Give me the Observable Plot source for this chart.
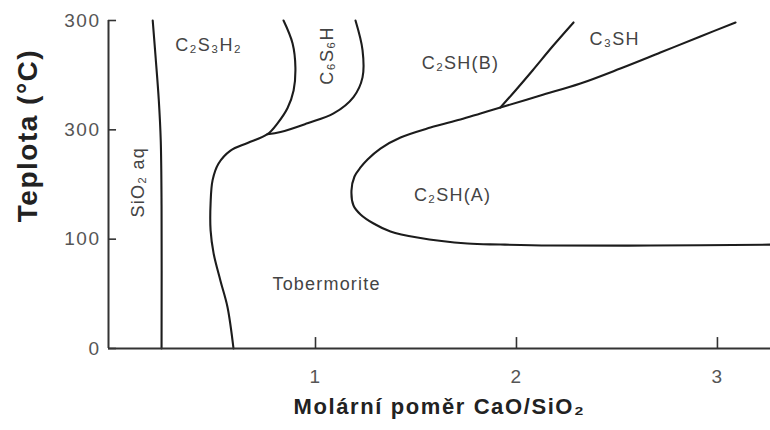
<!DOCTYPE html>
<html><head><meta charset="utf-8">
<script src="https://cdn.jsdelivr.net/npm/d3@7"></script>
<script src="https://cdn.jsdelivr.net/npm/@observablehq/plot@0.6"></script>
<style>
body{margin:0;background:#fff;}
g[font-size="19"] text{letter-spacing:1.5px}
g[font-size="18"] text{letter-spacing:1.2px}
g[font-size="22"] text{letter-spacing:1.6px}
g[font-size="28"] text{letter-spacing:1.5px}
</style></head><body><div id="chart"></div>
<script>
// axis ticks and labels
const xTicks = [1, 2, 3];
const xTickLabels = ["1", "2", "3"];
const yTicks = [0, 100, 200, 300];
const yTickLabels = ["0", "100", "300", "300"];
const xTitle = "Molární poměr CaO/SiO₂";
const yTitle = "Teplota (°C)";
const xDomain = [-0.03, 3.264];
const yDomain = [0, 300];

// phase boundaries: [molar ratio CaO/SiO2, temperature °C]
const boundarySiO2 = [[0.19,300],[0.205,265],[0.22,228],[0.23,190],[0.234,130],[0.234,0]];
const boundaryTobermorite = [[0.841,300],[0.886,279],[0.900,257],[0.891,236],[0.861,220],[0.811,206],[0.761,196],
  [0.662,188],[0.577,181],[0.517,169],[0.488,154],[0.478,133],[0.478,108],[0.493,87],[0.527,62],[0.562,38],[0.592,0]];
const boundaryXonotlite = [[1.199,300],[1.234,273],[1.234,248],[1.189,230],[1.090,215],[0.960,206],[0.826,198],[0.761,196]];
const boundaryC2SHA = [[3.264,95],[2.667,94.2],[2.169,94.2],[1.920,95.1],[1.756,96],[1.507,101.5],[1.373,107],
  [1.289,114.3],[1.224,122.6],[1.189,130.8],[1.179,144.5],[1.194,157.3],[1.224,165.6],[1.259,172.9],[1.323,182.9],
  [1.423,193],[1.572,202.1],[1.721,209.5],[1.821,215],[1.920,220.4],[2.119,231.4],[2.318,242.4],[2.517,256.1],
  [2.716,270.7],[2.915,285.4],[3.09,298.2]];
const boundaryC3SH = [[1.920,220.4],[1.995,236],[2.080,254.3],[2.179,276.2],[2.284,298.2]];

// region names and where they sit (ratio, temperature)
const regionNames = ["C₂S₃H₂", "C₂SH(B)", "C₃SH", "C₂SH(A)", "Tobermorite"];
const regionX = [0.468, 1.721, 2.488, 1.682, 1.055];
const regionT = [277, 260.7, 282.6, 140, 58.5];
const verticalNames = ["C₆S₆H", "SiO₂ aq"];
const verticalX = [1.06, 0.119];
const verticalT = [268, 152];

const boundaries = [boundarySiO2, boundaryTobermorite, boundaryXonotlite, boundaryC2SHA, boundaryC3SH];
const regions = regionNames.map((n, i) => ({n, x: regionX[i], t: regionT[i]}));
const verticals = verticalNames.map((n, i) => ({n, x: verticalX[i], t: verticalT[i]}));

const lineStyle = {x: d => d[0], y: d => d[1], curve: "catmull-rom", stroke: "#1c1c1c", strokeWidth: 2.1};

const chart = Plot.plot({
  width: 770, height: 430,
  marginLeft: 108, marginRight: 0, marginTop: 20, marginBottom: 82,
  x: {domain: xDomain},
  y: {domain: yDomain},
  style: {fontFamily: "'Liberation Sans', Arial, sans-serif", background: "#fff", overflow: "visible"},
  marks: [
    ...boundaries.map(b => Plot.line(b, lineStyle)),
    Plot.ruleY([yDomain[0]], {stroke: "#333", strokeWidth: 2}),
    Plot.ruleX([xDomain[0]], {y1: yDomain[0], y2: yDomain[1], stroke: "#333", strokeWidth: 2}),
    Plot.ruleY(yTicks, {y: d => d, x1: xDomain[0], x2: xDomain[0] + 0.04, stroke: "#333", strokeWidth: 1.6}),
    Plot.ruleX(xTicks, {x: d => d, y1: 0, y2: 10, stroke: "#333", strokeWidth: 1.6}),
    Plot.axisY(yTicks, {tickSize: 0, tickPadding: 8, tickFormat: (d, i) => yTickLabels[i], fontSize: 19, fill: "#555", label: null}),
    Plot.axisX(xTicks, {tickSize: 0, tickPadding: 21, tickFormat: (d, i) => xTickLabels[i], fontSize: 19, fill: "#555", label: null}),
    Plot.text(regions, {x: "x", y: "t", text: "n", fontSize: 18, fill: "#444"}),
    Plot.text(verticals, {x: "x", y: "t", text: "n", fontSize: 18, fill: "#444", rotate: -90}),
    Plot.text([xTitle], {frameAnchor: "bottom", dy: 65, fontSize: 22, fontWeight: "bold", fill: "#222"}),
    Plot.text([yTitle], {frameAnchor: "left", textAnchor: "middle", dx: -80, dy: -49, rotate: -90, fontSize: 28, fontWeight: "bold", fill: "#222"})
  ]
});
document.getElementById("chart").appendChild(chart);
</script></body></html>
